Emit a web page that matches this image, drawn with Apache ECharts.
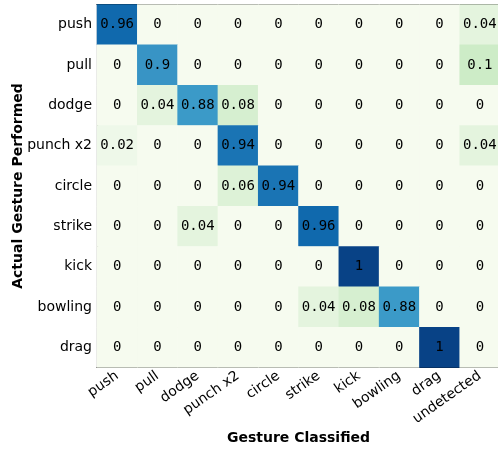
<!DOCTYPE html>
<html>
<head>
<meta charset="utf-8">
<script src="https://cdn.jsdelivr.net/npm/echarts@6/dist/echarts.min.js"></script>
<style>
  html, body { margin: 0; padding: 0; background: #fff; }
  #chart { width: 498px; height: 449px; }
</style>
</head>
<body>
<div id="chart"></div>
<script>
/* 类别 */
const predicted = ["push", "pull", "dodge", "punch x2", "circle", "strike", "kick", "bowling", "drag", "undetected"];
const actual = ["push", "pull", "dodge", "punch x2", "circle", "strike", "kick", "bowling", "drag"];

/* 每一行：实际手势 → 分类结果 */
const rowPush    = [0.96, 0,    0,    0,    0,    0,    0,    0,    0, 0.04];
const rowPull    = [0,    0.9,  0,    0,    0,    0,    0,    0,    0, 0.1];
const rowDodge   = [0,    0.04, 0.88, 0.08, 0,    0,    0,    0,    0, 0];
const rowPunch   = [0.02, 0,    0,    0.94, 0,    0,    0,    0,    0, 0.04];
const rowCircle  = [0,    0,    0,    0.06, 0.94, 0,    0,    0,    0, 0];
const rowStrike  = [0,    0,    0.04, 0,    0,    0.96, 0,    0,    0, 0];
const rowKick    = [0,    0,    0,    0,    0,    0,    1,    0,    0, 0];
const rowBowling = [0,    0,    0,    0,    0,    0.04, 0.08, 0.88, 0, 0];
const rowDrag    = [0,    0,    0,    0,    0,    0,    0,    0,    1, 0];

const rows = [rowPush, rowPull, rowDodge, rowPunch, rowCircle, rowStrike, rowKick, rowBowling, rowDrag];

/* 色阶锚点（取自原图） */
const colorStops = [
    [0,    [246, 251, 239]],
    [0.02, [238, 248, 233]],
    [0.04, [228, 244, 222]],
    [0.08, [214, 239, 208]],
    [0.1,  [205, 236, 199]],
    [0.5,  [128, 200, 196]],
    [0.88, [59, 154, 200]],
    [0.9,  [56, 148, 197]],
    [0.94, [26, 116, 180]],
    [0.96, [16, 105, 173]],
    [1,    [8, 66, 134]]
];

/* 插值成均匀色带 */
function buildRamp(n){

    const out = [];

    for(let i = 0; i <= n; i++){

        const v = i / n;

        let k = 0;

        while(k < colorStops.length - 2 && v > colorStops[k + 1][0]) k++;

        const a = colorStops[k], b = colorStops[k + 1];

        const t = Math.min(1, Math.max(0, (v - a[0]) / (b[0] - a[0])));

        const c = a[1].map((x, j) => Math.round(x + (b[1][j] - x) * t));

        out.push(`rgb(${c[0]},${c[1]},${c[2]})`);
    }

    return out;
}

const data = [];

rows.forEach((row, r) => {

    row.forEach((v, c) => {

        data.push([c, r, v]);
    });
});

const chart = echarts.init(document.getElementById("chart"));

const tickFont = { fontFamily: "DejaVu Sans", fontSize: 14, color: "#000" };

const titleFont = { fontFamily: "DejaVu Sans", fontSize: 14, fontWeight: "bold", color: "#000" };

chart.setOption({

    animation: false,

    grid: { left: 97, top: 4.5, width: 403, height: 363, outerBoundsMode: "none", containLabel: false },

    visualMap: {
        show: false,
        min: 0,
        max: 1,
        dimension: 2,
        inRange: { color: buildRamp(100) }
    },

    xAxis: [
        {
            type: "category",
            data: predicted,
            position: "bottom",
            name: "Gesture Classified",
            nameLocation: "middle",
            nameGap: 64,
            nameMoveOverlap: false,
            nameTextStyle: titleFont,
            axisLine: { lineStyle: { color: "#000", width: 1.2 } },
            axisTick: { alignWithLabel: true, length: 4, lineStyle: { color: "#000" } },
            axisLabel: Object.assign({ rotate: 35, margin: 7, interval: 0 }, tickFont),
            splitLine: { show: false }
        },
        {
            type: "category",
            data: predicted,
            position: "top",
            axisLine: { lineStyle: { color: "#000", width: 1.2 } },
            axisTick: { alignWithLabel: true, inside: true, length: 4, lineStyle: { color: "#000" } },
            axisLabel: { show: false }
        }
    ],

    yAxis: [
        {
            type: "category",
            data: actual,
            inverse: true,
            name: "Actual Gesture Performed",
            nameLocation: "middle",
            nameGap: 72,
            nameMoveOverlap: false,
            nameRotate: 90,
            nameTextStyle: titleFont,
            axisLine: { lineStyle: { color: "#000", width: 1.2 } },
            axisTick: { alignWithLabel: true, length: 4, lineStyle: { color: "#000" } },
            axisLabel: Object.assign({ margin: 5, interval: 0 }, tickFont),
            splitLine: { show: false }
        },
        {
            type: "category",
            data: actual,
            inverse: true,
            position: "right",
            axisLine: { lineStyle: { color: "#000" } },
            axisTick: { alignWithLabel: true, inside: true, length: 4, lineStyle: { color: "#000" } },
            axisLabel: { show: false }
        }
    ],

    series: [
        {
            type: "heatmap",
            data: data,
            label: {
                show: true,
                fontFamily: "DejaVu Sans Mono",
                fontSize: 14,
                color: "#000",
                formatter: p => String(p.value[2])
            },
            itemStyle: { borderWidth: 0 },
            emphasis: { disabled: true }
        }
    ]
});
</script>
</body>
</html>
